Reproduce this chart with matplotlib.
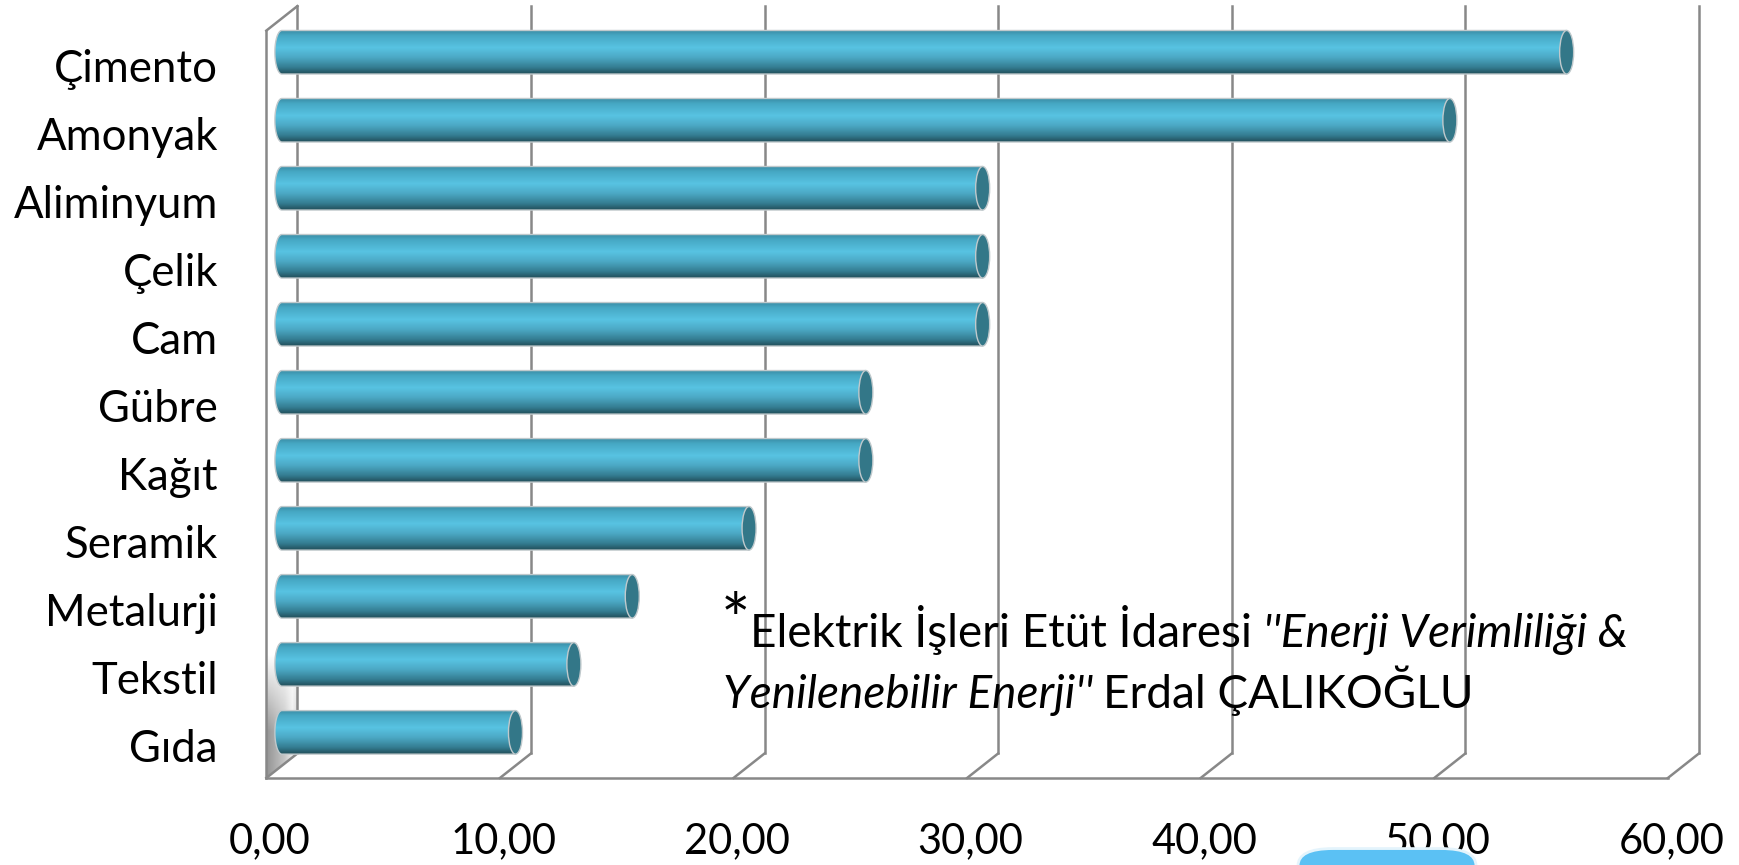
import numpy as np
import matplotlib.pyplot as plt
from matplotlib import transforms
from matplotlib.patches import Polygon, Ellipse, FancyBboxPatch
from matplotlib.colors import LinearSegmentedColormap

plt.rcParams['font.family'] = ['Lato', 'DejaVu Sans']

sectors = ['Çimento', 'Amonyak', 'Aliminyum', 'Çelik', 'Cam', 'Gübre',
           'Kağıt', 'Seramik', 'Metalurji', 'Tekstil', 'Gıda']
values = [55, 50, 30, 30, 30, 25, 25, 20, 15, 12.5, 10]
x_ticks = [0, 10, 20, 30, 40, 50, 60]
x_labels = ['0,00', '10,00', '20,00', '30,00', '40,00', '50,00', '60,00']

fig = plt.figure(figsize=(17.4, 8.65), dpi=100)
ax = fig.add_axes([0.162, 0.1148, 0.8055, 0.864])
y_top, y_floor = -0.4985, 10.49
ax.set_xlim(x_ticks[0], x_ticks[-1])
ax.set_ylim(y_floor, y_top)
ax.set_autoscale_on(False)
ax.set_xticks([])
ax.set_yticks([])
for sp in ax.spines.values():
    sp.set_visible(False)

def px(dx, dy):
    # shift in screen pixels
    return transforms.ScaledTranslation(dx / 100, dy / 100, fig.dpi_scale_trans)

# half depth of the box: bar plane -> back wall
ddx, ddy = 0.664, -0.18
grid_kw = dict(color='#888888', lw=1.8, clip_on=False, zorder=1)

for t in x_ticks:
    ax.plot([t + ddx] * 2, [y_floor + ddy, y_top + ddy], **grid_kw)
    ax.plot([t - ddx, t + ddx], [y_floor - ddy, y_floor + ddy], **grid_kw)
ax.plot([x_ticks[0] - ddx, x_ticks[-1] - ddx], [y_floor - ddy] * 2, **grid_kw)
ax.plot([x_ticks[0] - ddx] * 2, [y_floor - ddy, y_top - ddy], **grid_kw)
ax.plot([x_ticks[0] - ddx, x_ticks[0] + ddx], [y_top - ddy, y_top + ddy], **grid_kw)

# grey shading on the lower part of the side wall
wall = Polygon([(-ddx, y_floor - ddy), (-ddx, y_top - ddy),
                (ddx, y_top + ddy), (ddx, y_floor + ddy)],
               closed=True, fc='none', ec='none')
ax.add_patch(wall)
ny, nx = 80, 20
fade = np.clip(np.linspace(0, 1.6, ny), 0, 1)[:, None]
tone = np.interp(np.linspace(0, 1, nx), [0, 0.6, 0.85, 1], [0.58, 0.78, 0.93, 0.8])[None, :]
shade = np.zeros((ny, nx, 4))
shade[..., 0] = shade[..., 1] = shade[..., 2] = tone
shade[..., 3] = fade
im = ax.imshow(shade, extent=[-ddx, ddx, 8.85, y_floor - ddy], origin='lower',
               aspect='auto', interpolation='bilinear', clip_path=wall, zorder=0.5)
im.set_clip_box(fig.bbox)

# cylinders
bar_cmap = LinearSegmentedColormap.from_list('cyl', [
    (0.0, '#3a8ca4'), (0.12, '#46a8c4'), (0.40, '#58c3e2'),
    (0.62, '#4ca9c5'), (0.85, '#357e93'), (1.0, '#22505c')])
grad = np.linspace(0, 1, 64)[:, None]
bar_h = 0.64
r = bar_h / 2
a = 0.3
arc = np.linspace(0, np.pi, 40)
for i, v in enumerate(values):
    left_end = np.column_stack([-a * np.sin(arc), i + r * np.cos(arc)])
    verts = np.vstack([[[0, i - r], [v, i - r], [v, i + r]], left_end])
    body = Polygon(verts, closed=True, fc='none', ec='#c0c9cc', lw=1.0,
                   zorder=3, clip_on=False)
    ax.add_patch(body)
    im = ax.imshow(grad, cmap=bar_cmap, extent=[-a, v, i - r, i + r], origin='lower',
                   aspect='auto', interpolation='bilinear', clip_path=body, zorder=2.5)
    im.set_clip_box(fig.bbox)
    ax.add_patch(Ellipse((v, i), 2 * a, 2 * r, fc='#337788', ec='#c0c9cc',
                         lw=1.0, zorder=4))

# category and value labels
for i, name in enumerate(sectors):
    ax.text(0, i, name, ha='right', va='baseline', fontsize=31.5,
            transform=ax.transData + px(-64, -30), clip_on=False)
for t, lab in zip(x_ticks, x_labels):
    ax.text(t, y_floor, lab, ha='center', va='baseline', fontsize=30,
            transform=ax.transData + px(-12, -88), clip_on=False)

# source note
fs = 33
ax.text(18.8, 8.7, '*', fontsize=50, va='baseline')
t1 = ax.text(20.05, 8.75, 'Elektrik İşleri Etüt İdaresi', fontsize=fs, va='baseline')
ax.annotate("''Enerji Verimliliği &", xy=(1, 0), xycoords=t1, xytext=(8, 0),
            textcoords='offset points', va='bottom', fontsize=fs, style='italic')
t2 = ax.text(18.88, 9.645, "Yenilenebilir Enerji''", fontsize=fs, va='baseline',
             style='italic')
ax.annotate('Erdal ÇALIKOĞLU', xy=(1, 0), xycoords=t2, xytext=(7, 0),
            textcoords='offset points', va='bottom', fontsize=fs)

# slide button peeking in at the bottom edge
fig.patches.append(FancyBboxPatch((1298 / 1740, -0.05), 178 / 1740, 0.069,
                                  boxstyle='round,pad=0,rounding_size=0.02',
                                  transform=fig.transFigure, fc='#5bc1f4',
                                  ec='#e4f4fc', lw=2, figure=fig))

fig.savefig('out.png', dpi=100)
